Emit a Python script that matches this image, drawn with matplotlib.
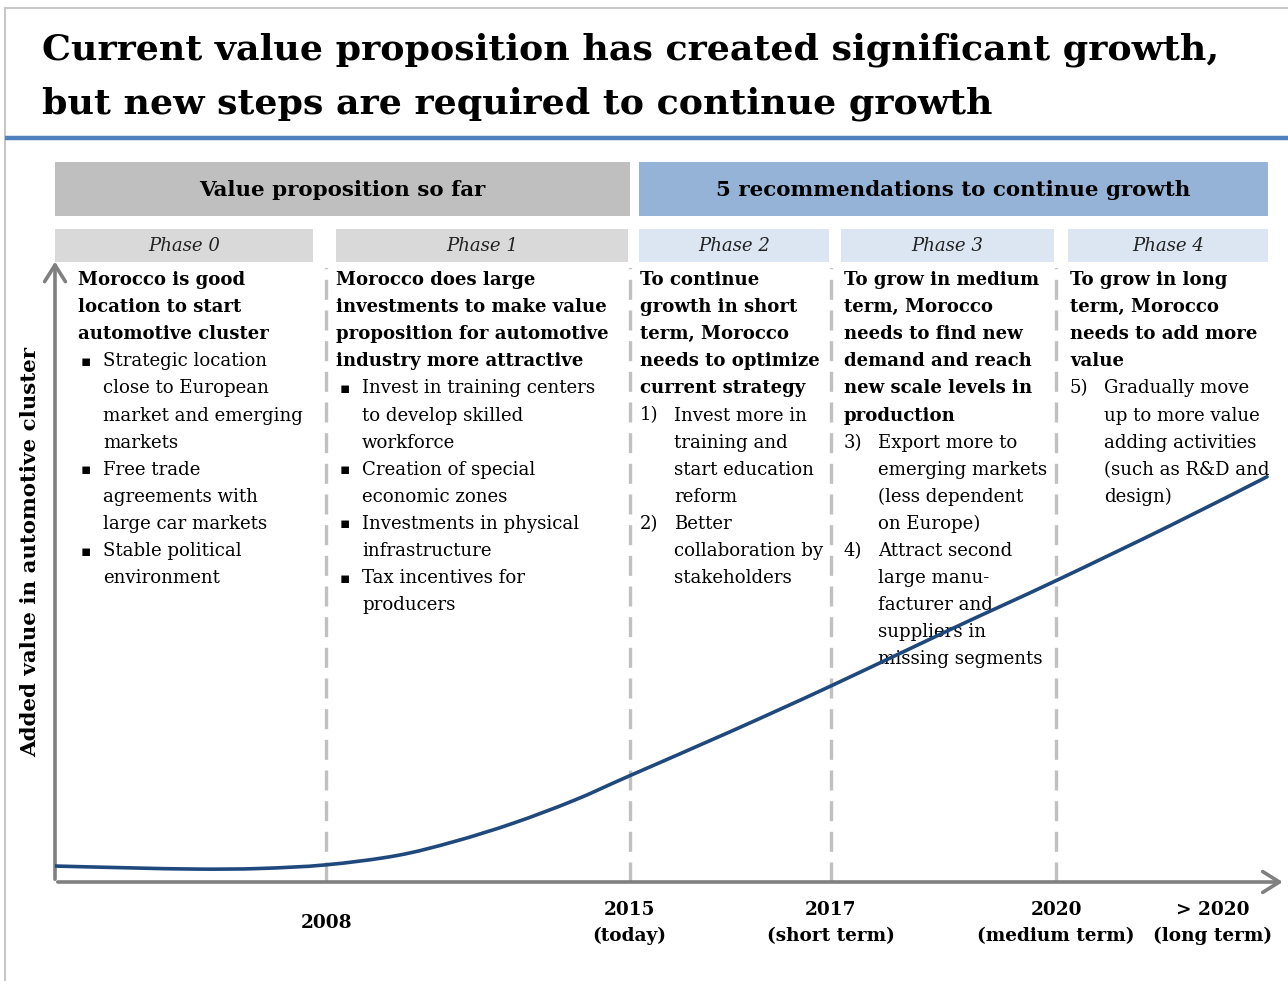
import matplotlib
matplotlib.use("Agg")
import matplotlib.pyplot as plt
from matplotlib.patches import Rectangle, FancyArrowPatch, PathPatch
from matplotlib.path import Path

W, H = 1288, 981
SERIF = ['DejaVu Serif', 'DejaVu Sans']

title_lines = ["Current value proposition has created significant growth,",
               "but new steps are required to continue growth"]
group_labels = ["Value proposition so far", "5 recommendations to continue growth"]
phase_labels = ["Phase 0", "Phase 1", "Phase 2", "Phase 3", "Phase 4"]

# Each column: (bold heading lines, list of (marker, [lines]))
col_heads = [
    ["Morocco is good", "location to start", "automotive cluster"],
    ["Morocco does large", "investments to make value", "proposition for automotive",
     "industry more attractive"],
    ["To continue", "growth in short", "term, Morocco", "needs to optimize", "current strategy"],
    ["To grow in medium", "term, Morocco", "needs to find new", "demand and reach",
     "new scale levels in", "production"],
    ["To grow in long", "term, Morocco", "needs to add more", "value"],
]
col_items = [
    [("▪", ["Strategic location", "close to European", "market and emerging", "markets"]),
     ("▪", ["Free trade", "agreements with", "large car markets"]),
     ("▪", ["Stable political", "environment"])],
    [("▪", ["Invest in training centers", "to develop skilled", "workforce"]),
     ("▪", ["Creation of special", "economic zones"]),
     ("▪", ["Investments in physical", "infrastructure"]),
     ("▪", ["Tax incentives for", "producers"])],
    [("1)", ["Invest more in", "training and", "start education", "reform"]),
     ("2)", ["Better", "collaboration by", "stakeholders"])],
    [("3)", ["Export more to", "emerging markets", "(less dependent", "on Europe)"]),
     ("4)", ["Attract second", "large manu-", "facturer and", "suppliers in", "missing segments"])],
    [("5)", ["Gradually move", "up to more value", "adding activities",
             "(such as R&D and", "design)"])],
]

time_labels = ["2008", "2015\n(today)", "2017\n(short term)", "2020\n(medium term)",
               "> 2020\n(long term)"]

# curve: position along timeline (0-100) and added value (0-100)
curve_x = [0.0, 6.1, 11.6, 16.6, 22.0, 27.7, 32.4, 37.2, 42.1, 46.6, 54.9,
           62.9, 72.7, 81.1, 90.4, 98.3]
curve_y = [2.6, 2.3, 2.1, 2.2, 2.8, 4.3, 6.6, 9.6, 13.3, 17.3, 24.6,
           31.9, 41.2, 49.0, 58.0, 66.0]
# phase boundaries on the same timeline scale (2008, 2015, 2017, 2020)
boundary_x = [22.0, 46.6, 62.9, 81.2]
label_x = [22.0, 46.6, 62.9, 81.2, 93.9]

fig = plt.figure(figsize=(W / 100, H / 100), dpi=100)
ax = fig.add_axes([0, 0, 1, 1])
ax.set_xlim(0, W)
ax.set_ylim(H, 0)
ax.axis('off')

# frame lines
ax.plot([5, 5], [8, H], color='#c8c8c8', lw=1.5)
ax.plot([5, W], [8, 8], color='#c8c8c8', lw=1.5)
ax.plot([5, W], [138, 138], color='#4f81bd', lw=3.2, solid_capstyle='butt')

# title
for i, t in enumerate(title_lines):
    ax.text(42, 50 + i * 54, t, fontsize=26.2, fontweight='bold', family=SERIF,
            va='center', ha='left', color='black')

# group headers
ax.add_patch(Rectangle((55, 162), 575, 54, facecolor='#bfbfbf', edgecolor='none'))
ax.add_patch(Rectangle((639, 162), 629, 54, facecolor='#95b3d7', edgecolor='none'))
ax.text(342, 190, group_labels[0], fontsize=15.4, fontweight='bold', family=SERIF,
        ha='center', va='center')
ax.text(953, 190, group_labels[1], fontsize=15.4, fontweight='bold', family=SERIF,
        ha='center', va='center')

# phase header boxes
phase_boxes = [(55, 313), (336, 628), (639, 829), (841, 1054), (1068, 1268)]
phase_colors = ['#d9d9d9', '#d9d9d9', '#dce6f2', '#dce6f2', '#dce6f2']
for (x0, x1), c, lab in zip(phase_boxes, phase_colors, phase_labels):
    ax.add_patch(Rectangle((x0, 229), x1 - x0, 33, facecolor=c, edgecolor='none'))
    ax.text((x0 + x1) / 2, 246, lab, fontsize=13.1, style='italic', family=SERIF,
            ha='center', va='center', color='#222222')

# plot-region axes for curve, axes and dashed lines
L, R, B, T = 55, 1288, 882, 268
pax = fig.add_axes([L / W, (H - B) / H, (R - L) / W, (B - T) / H])
pax.set_xlim(0, 100)
pax.set_ylim(0, 100)
pax.axis('off')
pax.patch.set_alpha(0)

for bx in boundary_x:
    pax.plot([bx, bx], [0, 100.5], color='#c0c0c0', lw=2.4,
             linestyle=(0, (6.0, 3.2)), zorder=1)

# axes arrows
axis_col = '#808080'
pax.add_patch(FancyArrowPatch((0, 0), (0, 101.5), arrowstyle='->,head_length=8,head_width=5',
                              color=axis_col, lw=2.6, mutation_scale=1.5, zorder=2,
                              clip_on=False))
pax.add_patch(FancyArrowPatch((0, 0), (99.8, 0), arrowstyle='->,head_length=8,head_width=5',
                              color=axis_col, lw=2.6, mutation_scale=1.5, zorder=2,
                              clip_on=False))

# text columns
col_x = [78, 336, 640, 844, 1070]
marker_dx = [3, 4, 0, 0, 0]
text_dx = [25, 26, 34, 34, 34]
y0 = 280
dy = 27.1
for ci in range(5):
    y = y0
    for line in col_heads[ci]:
        ax.text(col_x[ci], y, line, fontsize=13.1, fontweight='bold', family=SERIF,
                ha='left', va='center', zorder=3)
        y += dy
    for marker, lines in col_items[ci]:
        if marker == "▪":
            ax.text(col_x[ci] + marker_dx[ci], y, marker, fontsize=11,
                    family=['DejaVu Sans'], ha='left', va='center', zorder=3)
        else:
            ax.text(col_x[ci] + marker_dx[ci], y, marker, fontsize=13.1,
                    family=SERIF, ha='left', va='center', zorder=3)
        for line in lines:
            ax.text(col_x[ci] + text_dx[ci], y, line, fontsize=13.1, family=SERIF,
                    ha='left', va='center', zorder=3)
            y += dy

# curve on top: smooth Catmull-Rom style Bezier path through the read points
pts = list(zip(curve_x, curve_y))
n = len(pts)
verts = [pts[0]]
codes = [Path.MOVETO]
for i in range(n - 1):
    p0 = pts[i - 1] if i > 0 else pts[i]
    p1 = pts[i]
    p2 = pts[i + 1]
    p3 = pts[i + 2] if i + 2 < n else pts[i + 1]
    c1 = (p1[0] + (p2[0] - p0[0]) / 6, p1[1] + (p2[1] - p0[1]) / 6)
    c2 = (p2[0] - (p3[0] - p1[0]) / 6, p2[1] - (p3[1] - p1[1]) / 6)
    verts += [c1, c2, p2]
    codes += [Path.CURVE4, Path.CURVE4, Path.CURVE4]
pax.add_patch(PathPatch(Path(verts, codes), facecolor='none', edgecolor='#1f497d',
                        lw=2.6, zorder=5, capstyle='round', joinstyle='round'))

# y label
ax.text(30, 552, "Added value in automotive cluster", rotation=90, fontsize=15.4,
        fontweight='bold', family=SERIF, ha='center', va='center')

# time labels
for lx, lab in zip(label_x, time_labels):
    px = L + lx / 100 * (R - L)
    ax.text(px, 923, lab, fontsize=13.3, fontweight='bold', family=SERIF,
            ha='center', va='center', linespacing=1.6)

fig.savefig("out.png", dpi=100)
